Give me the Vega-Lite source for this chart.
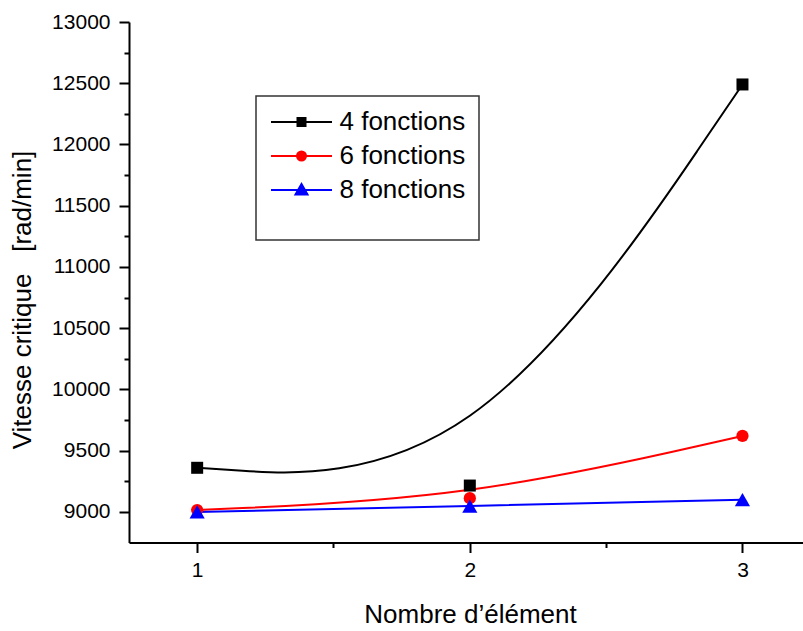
{
  "$schema": "https://vega.github.io/schema/vega-lite/v6.json",
  "width": 674,
  "height": 520.5,
  "autosize": {"type": "none"},
  "padding": {"left": 129, "top": 22, "right": 0, "bottom": 88},
  "background": "white",
  "config": {
    "font": "Liberation Sans",
    "view": {"stroke": null},
    "axis": {"labelFont": "Liberation Sans", "titleFont": "Liberation Sans", "labelColor": "black", "titleColor": "black", "domainColor": "black", "tickColor": "black", "grid": false, "titleFontWeight": "normal"}
  },
  "data": {
    "values": [
      {"n": 1, "v": 9360, "serie": "4 fonctions"},
      {"n": 2, "v": 9215, "serie": "4 fonctions"},
      {"n": 3, "v": 12490, "serie": "4 fonctions"},
      {"n": 1, "v": 9015, "serie": "6 fonctions"},
      {"n": 2, "v": 9112, "serie": "6 fonctions"},
      {"n": 3, "v": 9620, "serie": "6 fonctions"},
      {"n": 1, "v": 9000, "serie": "8 fonctions"},
      {"n": 2, "v": 9047, "serie": "8 fonctions"},
      {"n": 3, "v": 9100, "serie": "8 fonctions"}
    ]
  },
  "resolve": {"axis": {"x": "independent", "y": "independent"}},
  "layer": [
    {
      "mark": {"type": "point", "opacity": 0},
      "encoding": {
        "x": {"field": "n", "type": "quantitative", "scale": {"domain": [0.75, 3.222], "nice": false, "zero": false},
          "axis": {"orient": "bottom", "values": [1.5, 2.5], "labels": false, "domain": false, "tickSize": 5, "tickWidth": 2, "title": null}},
        "y": {"field": "v", "type": "quantitative", "scale": {"domain": [8750, 13000], "nice": false, "zero": false},
          "axis": {"orient": "left", "values": [9250, 9750, 10250, 10750, 11250, 11750, 12250, 12750], "labels": false, "domain": false, "tickSize": 5, "tickWidth": 2, "title": null}}
      }
    },
    {
      "mark": {"type": "line", "interpolate": "basis", "strokeWidth": 2},
      "encoding": {
        "x": {"field": "n", "type": "quantitative", "scale": {"domain": [0.75, 3.222], "nice": false, "zero": false}, "axis": null},
        "y": {"field": "v", "type": "quantitative", "scale": {"domain": [8750, 13000], "nice": false, "zero": false}, "axis": null},
        "color": {"field": "serie", "type": "nominal",
          "scale": {"domain": ["4 fonctions", "6 fonctions", "8 fonctions"], "range": ["#000000", "#ff0000", "#0000ff"]},
          "legend": {
            "orient": "none", "legendX": 127, "legendY": 74,
            "title": "\u00a0", "titleOrient": "bottom", "titleFontSize": 16, "titlePadding": 8,
            "padding": 13, "rowPadding": 8,
            "labelFont": "Liberation Sans", "labelFontSize": 26, "labelColor": "black",
            "symbolSize": 100, "symbolStrokeWidth": 2, "symbolOffset": 19.5, "labelOffset": 25,
            "encode": {
              "legend": {"update": {"stroke": {"value": "#333333"}, "strokeWidth": {"value": 1.5}, "fill": {"value": "white"}}},
              "symbols": {"update": {
                "shape": {"signal": "datum.value === '4 fonctions' ? 'M-6.1,0H6.1M-0.8,-0.8H0.8V0.8H-0.8Z' : datum.value === '6 fonctions' ? 'M-6.1,0H6.1M-0.9,0A0.9,0.9,0,1,0,0.9,0A0.9,0.9,0,1,0,-0.9,0Z' : 'M-6.1,0H6.1M0,-1.2L1.2,0.9H-1.2Z'"},
                "fill": {"scale": "color", "field": "value"},
                "stroke": {"scale": "color", "field": "value"},
                "strokeWidth": {"value": 2},
                "opacity": {"value": 1},
                "fillOpacity": {"value": 1}
              }}
            }
          }
        }
      }
    },
    {
      "transform": [{"filter": "datum.serie === '4 fonctions'"}],
      "mark": {"type": "point", "shape": "square", "filled": true, "opacity": 1, "color": "#000000", "size": 144},
      "encoding": {
        "x": {"field": "n", "type": "quantitative", "scale": {"domain": [0.75, 3.222], "nice": false, "zero": false},
          "axis": {"orient": "bottom", "values": [1, 2, 3], "format": "d", "labelFontSize": 21, "labelPadding": 7, "tickSize": 10, "tickWidth": 2, "domainWidth": 2,
            "title": "Nombre d’élément", "titleFontSize": 26, "titleX": 341, "titleY": 80, "titleBaseline": "alphabetic", "titleAlign": "center", "titleAnchor": null}},
        "y": {"field": "v", "type": "quantitative", "scale": {"domain": [8750, 13000], "nice": false, "zero": false},
          "axis": {"orient": "left", "values": [9000, 9500, 10000, 10500, 11000, 11500, 12000, 12500, 13000], "format": "d", "labelFontSize": 21, "labelPadding": 9, "tickSize": 10, "tickWidth": 2, "domainWidth": 2,
            "title": "Vitesse critique\u00a0\u00a0\u00a0[rad/min]", "titleFontSize": 26, "titleAngle": -90, "titleX": -99, "titleY": 277.5, "titleBaseline": "alphabetic", "titleAlign": "center"}}
      }
    },
    {
      "transform": [{"filter": "datum.serie === '6 fonctions'"}],
      "mark": {"type": "point", "shape": "circle", "filled": true, "opacity": 1, "color": "#ff0000", "size": 150},
      "encoding": {
        "x": {"field": "n", "type": "quantitative", "scale": {"domain": [0.75, 3.222], "nice": false, "zero": false}, "axis": null},
        "y": {"field": "v", "type": "quantitative", "scale": {"domain": [8750, 13000], "nice": false, "zero": false}, "axis": null}
      }
    },
    {
      "transform": [{"filter": "datum.serie === '8 fonctions'"}],
      "mark": {"type": "point", "shape": "triangle-up", "filled": true, "opacity": 1, "color": "#0000ff", "size": 230},
      "encoding": {
        "x": {"field": "n", "type": "quantitative", "scale": {"domain": [0.75, 3.222], "nice": false, "zero": false}, "axis": null},
        "y": {"field": "v", "type": "quantitative", "scale": {"domain": [8750, 13000], "nice": false, "zero": false}, "axis": null}
      }
    }
  ]
}
